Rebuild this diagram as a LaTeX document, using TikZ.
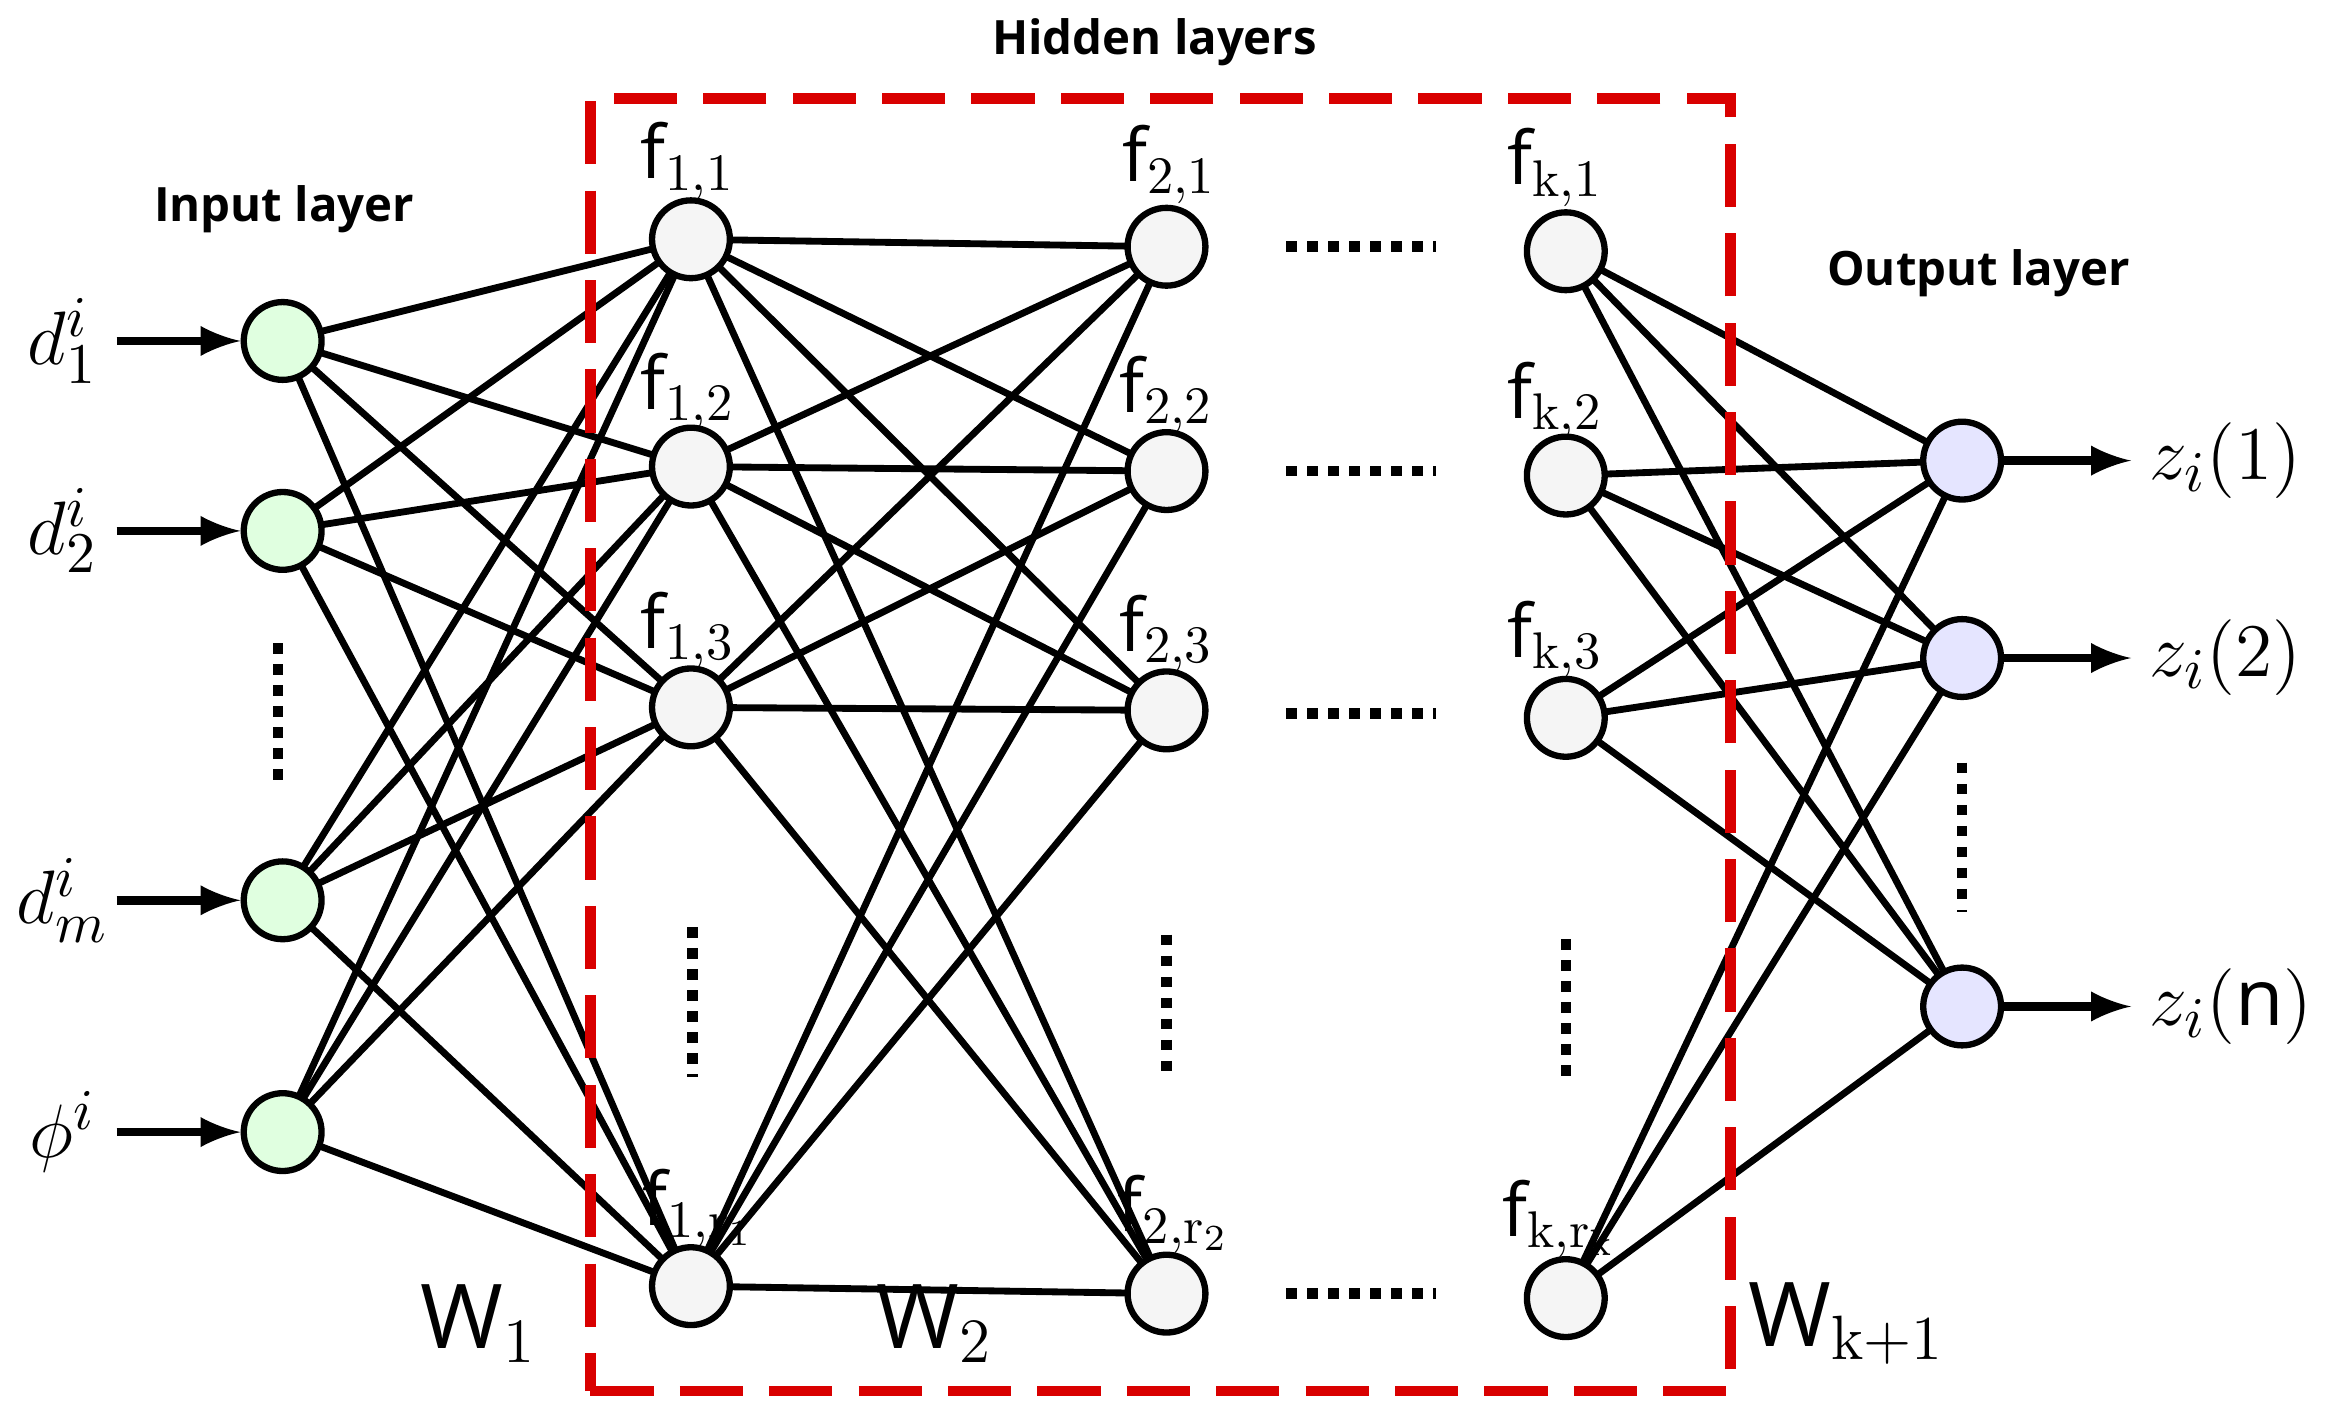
\documentclass[tikz,border=0pt]{standalone}
\usepackage{fontspec}
\setmainfont{Latin Modern Roman}
\newfontfamily\osf{Open Sans}
\begin{document}
\begin{tikzpicture}[x=0.01cm,y=-0.01cm,
  neu/.style={circle,draw=black,line width=1.2pt,minimum size=0.52cm,inner sep=0pt},
  inp/.style={neu,fill=green!12},
  hid/.style={neu,fill=gray!8},
  outn/.style={neu,fill=blue!10},
  edge/.style={line width=1.3pt},
  arr/.style={line width=1.6pt,-latex},
  dots/.style={line width=2pt,dotted},
  flab/.style={font=\osf\fontsize{14}{14}\selectfont},
  wlab/.style={font=\osf\fontsize{17}{17}\selectfont},
  ttl/.style={font=\osf\bfseries\fontsize{9}{9}\selectfont},
  mlab/.style={font=\fontsize{15}{15}\selectfont}]
\useasboundingbox (0,0) rectangle (1568,943);
\foreach \n/\y in {1/228,2/355,3/602,4/757} \coordinate (pi\n) at (189,\y);
\foreach \n/\y in {1/160,2/312,3/473,4/860} \coordinate (pa\n) at (462,\y);
\foreach \n/\y in {1/165,2/315,3/475,4/865} \coordinate (pb\n) at (780,\y);
\foreach \n/\y in {1/168,2/318,3/480,4/868} \coordinate (pc\n) at (1047,\y);
\foreach \n/\y in {1/308,2/440,3/673} \coordinate (po\n) at (1312,\y);
\foreach \i in {1,...,4} \foreach \j in {1,...,4} {
  \draw[edge] (pi\i) -- (pa\j);
  \draw[edge] (pa\i) -- (pb\j);}
\foreach \i in {1,...,4} \foreach \j in {1,2,3} \draw[edge] (pc\i) -- (po\j);
\foreach \n in {1,...,4} {
  \node[inp] (i\n) at (pi\n) {};
  \node[hid] (a\n) at (pa\n) {};
  \node[hid] (b\n) at (pb\n) {};
  \node[hid] (c\n) at (pc\n) {};}
\foreach \n in {1,2,3} \node[outn] (o\n) at (po\n) {};
\node[draw=red!85!black,line width=2pt,dash pattern=on 12pt off 5pt,minimum width=7.62cm,minimum height=8.64cm] (box) at (776,498) {};
\node[ttl] (t1) at (772,28) {Hidden layers};
\node[ttl] (t2) at (190,140) {Input layer};
\node[ttl] (t3) at (1323,183) {Output layer};
\foreach \n/\y/\tx in {1/228/{d_1^i},2/355/{d_2^i},3/602/{d_m^i},4/757/{\phi^i}} {
  \node[mlab] (l\n) at (42,\y) {$\tx$};
  \coordinate (s\n) at (78,\y);
  \draw[arr] (s\n) -- (i\n);}
\node[mlab,anchor=west] (z1) at (1425,308) {$z_i(1)$};
\node[mlab,anchor=west] (z2) at (1425,440) {$z_i(2)$};
\node[mlab,anchor=west] (z3) at (1425,673) {$z_i(\mbox{\osf n})$};
\foreach \n in {1,2,3} \draw[arr] (o\n) -- (z\n.west);
\node[flab] at (460,108) {f$_{1,1}$};
\node[flab] at (460,262) {f$_{1,2}$};
\node[flab] at (460,422) {f$_{1,3}$};
\node[flab] at (467,808) {f$_{1,\mathrm{r}_1}$};
\node[flab] at (782,110) {f$_{2,1}$};
\node[flab] at (780,264) {f$_{2,2}$};
\node[flab] at (780,424) {f$_{2,3}$};
\node[flab] at (785,812) {f$_{2,\mathrm{r}_2}$};
\node[flab] at (1040,112) {f$_{\mathrm{k},1}$};
\node[flab] at (1040,268) {f$_{\mathrm{k},2}$};
\node[flab] at (1040,428) {f$_{\mathrm{k},3}$};
\node[flab] at (1043,815) {f$_{\mathrm{k},\mathrm{r}_\mathrm{k}}$};
\node[wlab] at (320,885) {W$_1$};
\node[wlab] at (625,885) {W$_2$};
\node[wlab] at (1235,885) {W$_{\mathrm{k+1}}$};
\draw[dots] (186,430) -- (186,525);
\draw[dots] (463,620) -- (463,720);
\draw[dots] (780,625) -- (780,722);
\draw[dots] (1047,628) -- (1047,725);
\draw[dots] (1312,510) -- (1312,610);
\foreach \y in {165,315,477,865} \draw[dots] (860,\y) -- (960,\y);
\end{tikzpicture}
\end{document}
